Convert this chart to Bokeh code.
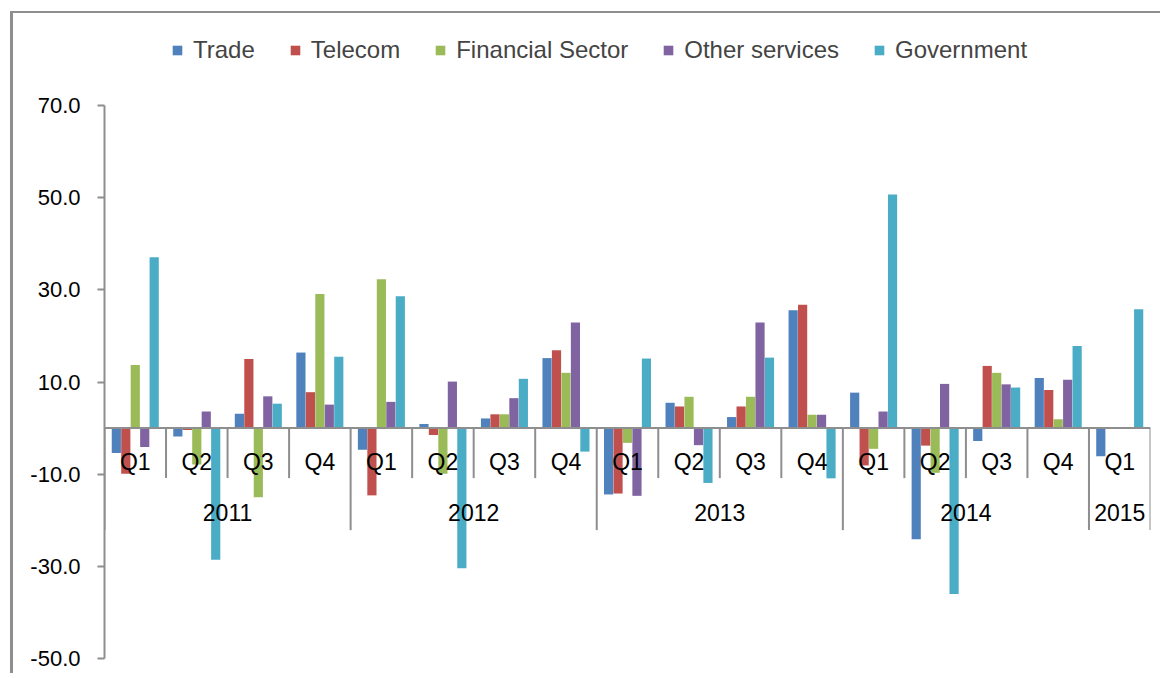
from bokeh.plotting import figure
from bokeh.models import (FactorRange, Range1d, ColumnDataSource, LinearAxis, FixedTicker,
                          PrintfTickFormatter, Span, Legend, LegendItem)
from bokeh.transform import dodge
from bokeh.core.properties import value
from bokeh.embed import file_html
from bokeh.resources import INLINE

nan = float("nan")

years = ["2011"] * 4 + ["2012"] * 4 + ["2013"] * 4 + ["2014"] * 4 + ["2015"]
quarters = ["Q1", "Q2", "Q3", "Q4"] * 4 + ["Q1"]
series_names = ["Trade", "Telecom", "Financial Sector", "Other services", "Government"]
trade = [-5.4, -1.8, 3.1, 16.4, -4.7, 0.9, 2.1, 15.2, -14.4, 5.5, 2.4, 25.6, 7.7, -24.1, -2.8, 10.9, -6.1]
telecom = [-9.9, -0.4, 15.0, 7.8, -14.6, -1.5, 3.0, 16.9, -14.2, 4.7, 4.7, 26.8, -8.1, -3.8, 13.5, 8.3, nan]
financial = [13.7, -7.9, -15.0, 29.1, 32.3, -9.9, 3.0, 12.0, -3.2, 6.8, 6.8, 2.9, -4.5, -9.7, 12.0, 1.9, nan]
other = [-4.1, 3.6, 6.9, 5.1, 5.7, 10.1, 6.5, 22.9, -14.7, -3.7, 22.9, 2.9, 3.6, 9.6, 9.5, 10.5, nan]
government = [37.1, -28.6, 5.3, 15.5, 28.6, -30.4, 10.7, -5.1, 15.1, -11.9, 15.3, -10.9, 50.7, -36.0, 8.8, 17.8, 25.8]
y_ticks = [-50, -30, -10, 10, 30, 50, 70]

colors = ["#4F81BD", "#C0504D", "#9BBB59", "#8064A2", "#4BACC6"]
series_values = [trade, telecom, financial, other, government]

FONT = "Liberation Sans"
factors = list(zip(years, quarters))

# frame spans the whole canvas; extra room above 70 holds the legend
Y_START, Y_END = -53.7, 90.0
PLOT_H = 662
px_per_unit = PLOT_H / (Y_END - Y_START)

p = figure(width=1150, height=PLOT_H, output_backend="svg", toolbar_location=None,
           x_range=FactorRange(*factors, factor_padding=0, group_padding=0, range_padding=0),
           y_range=Range1d(Y_START, Y_END), x_axis_location=None, y_axis_location=None,
           min_border_left=91, min_border_right=13, min_border_top=0, min_border_bottom=0,
           margin=(11, 0, 0, 10),
           styles={"border-left": "3px solid #8e8e8e", "border-top": "2px solid #8e8e8e"})
p.outline_line_color = None
p.xgrid.visible = False
p.ygrid.visible = False

src = ColumnDataSource(dict(x=factors, **{f"s{i}": v for i, v in enumerate(series_values)}))

bar_w = 1 / 6.5
renderers = []
for i, (name, col) in enumerate(zip(series_names, colors)):
    r = p.vbar(x=dodge("x", (i - 2) * bar_w, range=p.x_range), top=f"s{i}", bottom=0,
               width=bar_w * 0.97, source=src, fill_color=col, line_color=None)
    renderers.append((name, r))

# category separators
q_sep = [f for f, q in zip(factors, quarters) if q != "Q1"]
y_sep_left = [f for f, q in zip(factors, quarters) if q == "Q1"]
qs = ColumnDataSource(dict(x=q_sep))
ys = ColumnDataSource(dict(x=y_sep_left))
ye = ColumnDataSource(dict(x=[factors[-1]]))
sep_color = "#8e8e8e"
p.segment(x0=dodge("x", -0.5, range=p.x_range), x1=dodge("x", -0.5, range=p.x_range),
          y0=0, y1=-50 / px_per_unit, source=qs, line_color=sep_color, line_width=2)
p.segment(x0=dodge("x", -0.5, range=p.x_range), x1=dodge("x", -0.5, range=p.x_range),
          y0=0, y1=-102 / px_per_unit, source=ys, line_color=sep_color, line_width=2)
p.segment(x0=dodge("x", 0.5, range=p.x_range), x1=dodge("x", 0.5, range=p.x_range),
          y0=0, y1=-102 / px_per_unit, source=ye, line_color=sep_color, line_width=2)

# category labels
ql = ColumnDataSource(dict(x=factors, t=quarters))
p.text(x="x", y=0, text="t", source=ql, y_offset=34, text_align="center", text_baseline="middle",
       text_font=value(FONT), text_font_size="23px", text_color="black")
uyears = sorted(set(years))
yl = ColumnDataSource(dict(x=uyears, t=uyears))
p.text(x="x", y=0, text="t", source=yl, y_offset=84, text_align="center", text_baseline="middle",
       text_font=value(FONT), text_font_size="23px", text_color="black")

p.add_layout(Span(location=0, dimension="width", line_color=sep_color, line_width=2))

yaxis = LinearAxis(ticker=FixedTicker(ticks=y_ticks), formatter=PrintfTickFormatter(format="%.1f"),
                   bounds=(y_ticks[0], y_ticks[-1]))
yaxis.axis_line_color = sep_color
yaxis.axis_line_width = 2
yaxis.major_tick_line_color = sep_color
yaxis.major_tick_line_width = 2
yaxis.major_tick_out = 7
yaxis.major_tick_in = 0
yaxis.minor_tick_line_color = None
yaxis.major_label_standoff = 17
yaxis.major_label_text_font = FONT
yaxis.major_label_text_font_size = "22px"
yaxis.major_label_text_color = "black"
p.add_layout(yaxis, "left")

legend = Legend(items=[LegendItem(label=n, renderers=[r]) for n, r in renderers],
                orientation="horizontal", location=(67, 611), padding=0, margin=0, spacing=34,
                glyph_width=12, glyph_height=12, label_standoff=10,
                label_text_font=FONT, label_text_font_size="24px",
                border_line_color=None, background_fill_alpha=0)
p.add_layout(legend, "center")

open("out.html", "w").write(file_html(p, INLINE))
